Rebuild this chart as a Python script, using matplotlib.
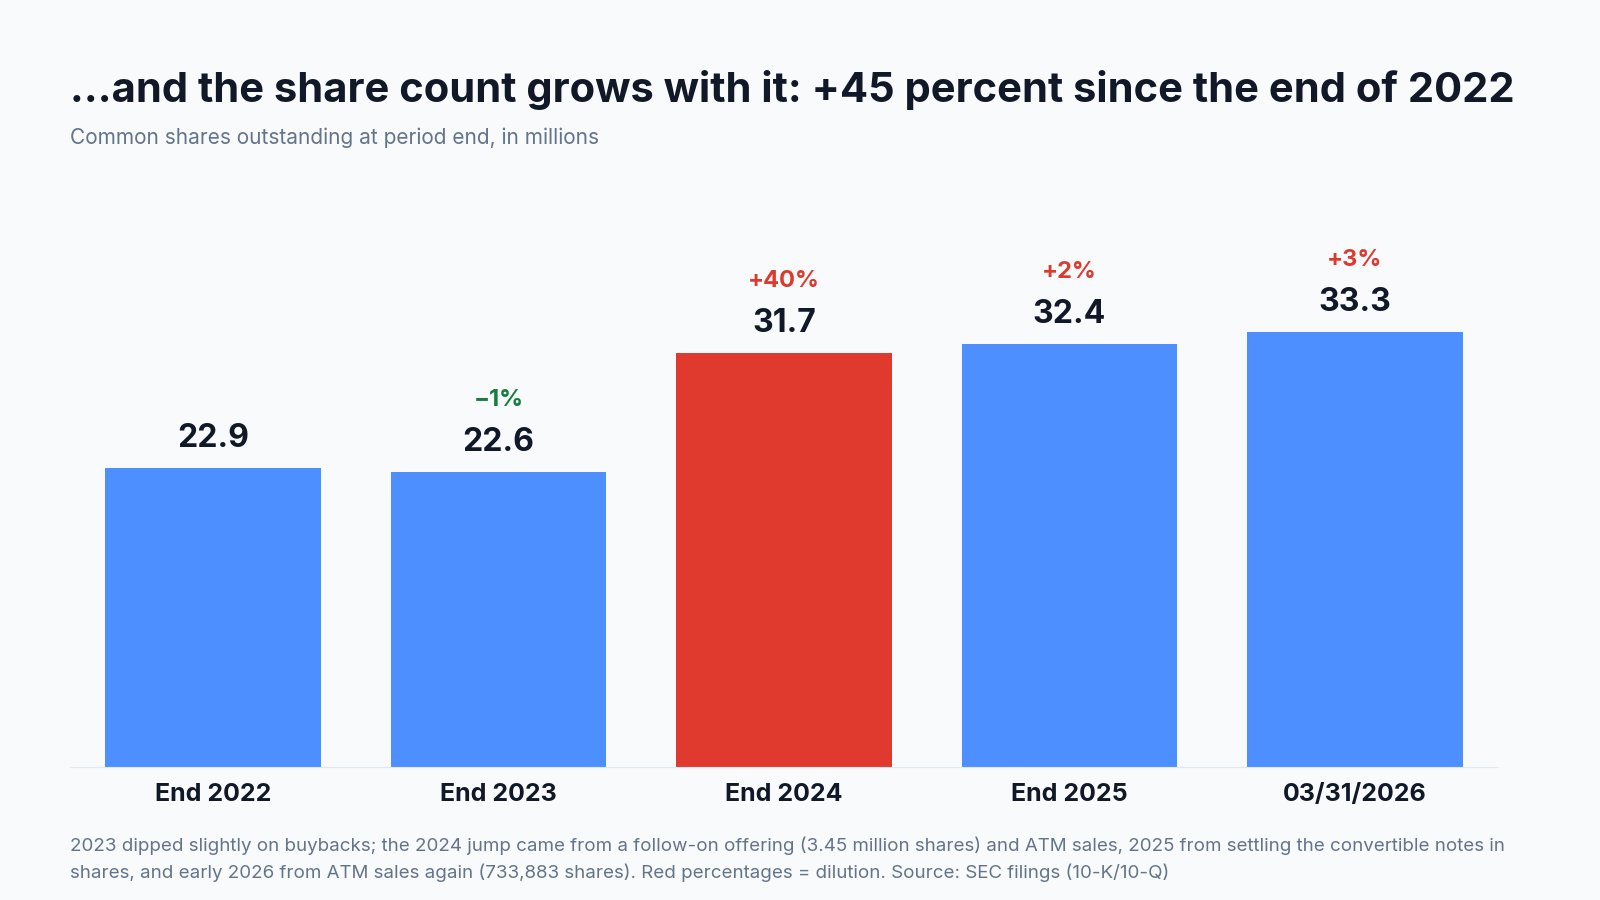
import matplotlib
matplotlib.use('Agg')
import matplotlib.pyplot as plt

# Data
periods = ['End 2022', 'End 2023', 'End 2024', 'End 2025', '03/31/2026']
shares = [22.9, 22.6, 31.7, 32.4, 33.3]
changes = ['', '\u22121%', '+40%', '+2%', '+3%']
change_colors = ['#dc3a2e', '#15803d', '#dc3a2e', '#dc3a2e', '#dc3a2e']
bar_colors = ['#4d8ffe', '#4d8ffe', '#e0392d', '#4d8ffe', '#4d8ffe']

plt.rcParams['font.family'] = ['Inter', 'DejaVu Sans']
bg = '#f8fafc'

fig = plt.figure(figsize=(16, 9), dpi=100, facecolor=bg)
ax = fig.add_axes([0.044, 0.148, 0.892, 0.663])
ax.set_facecolor(bg)

x = range(len(periods))
ax.bar(x, shares, width=0.755, color=bar_colors, zorder=2)
ax.set_xlim(-0.5, 4.5)
ax.set_ylim(0, 45.7)

for i, v in enumerate(shares):
    ax.annotate(f'{v:.1f}', (i, v), xytext=(0, 10), textcoords='offset points',
                ha='center', va='bottom', fontsize=23, fontweight='bold', color='#111827')
    if changes[i]:
        ax.annotate(changes[i], (i, v), xytext=(0, 44), textcoords='offset points',
                    ha='center', va='bottom', fontsize=17, fontweight='bold', color=change_colors[i])

for s in ['top', 'right', 'left']:
    ax.spines[s].set_visible(False)
ax.spines['bottom'].set_color('#e2e8f0')
ax.set_yticks([])
ax.set_xticks(list(x))
ax.set_xticklabels(periods, fontsize=18, fontweight='bold', color='#111827')
ax.tick_params(axis='x', length=0, pad=12)

fig.text(0.044, 0.9, '\u2026and the share count grows with it: +45 percent since the end of 2022',
         fontsize=30, fontweight='bold', color='#111827', va='center')
fig.text(0.044, 0.847, 'Common shares outstanding at period end, in millions',
         fontsize=15, color='#64748b', va='center')
fig.text(0.044, 0.02,
         '2023 dipped slightly on buybacks; the 2024 jump came from a follow-on offering (3.45 million shares) and ATM sales, 2025 from settling the convertible notes in\n'
         'shares, and early 2026 from ATM sales again (733,883 shares). Red percentages = dilution. Source: SEC filings (10-K/10-Q)',
         fontsize=13.5, color='#64748b', va='bottom', linespacing=1.6)

fig.savefig('out.png', dpi=100, facecolor=bg)
